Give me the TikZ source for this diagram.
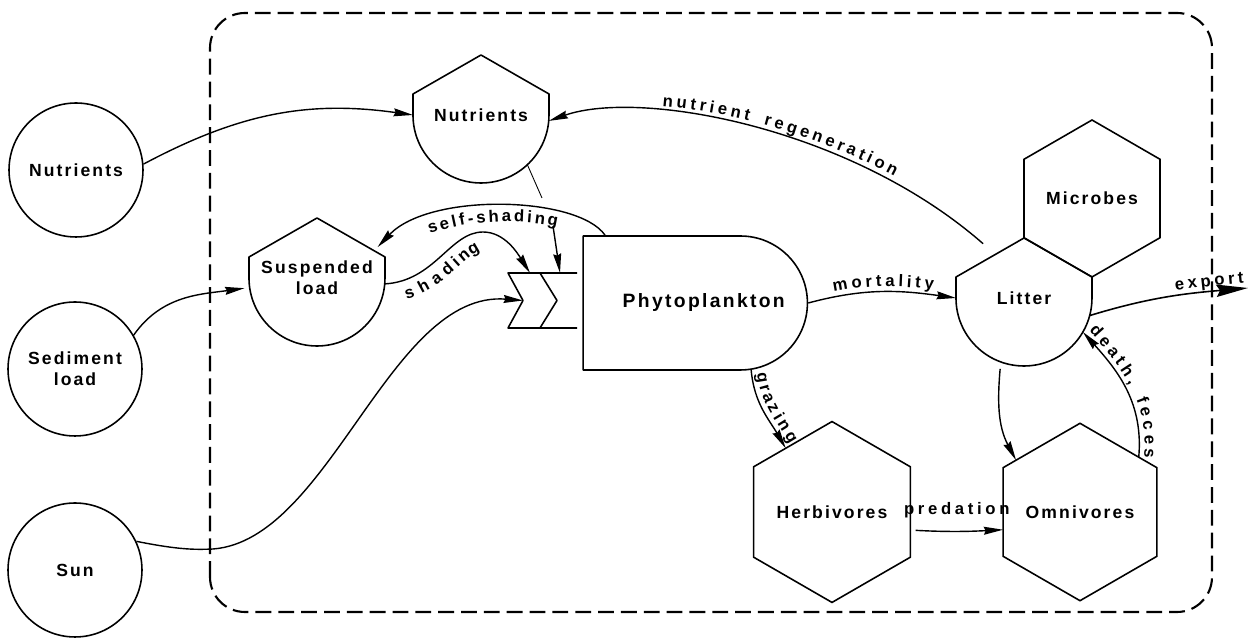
\documentclass[tikz,border=0pt]{standalone}
\usepackage{fontspec}
\setmainfont{Liberation Sans}[LetterSpace=12]
\newfontfamily\labelfam{Liberation Sans}[LetterSpace=22]
\newcommand\lblfont{\labelfam\bfseries\fontsize{9.5}{11}\selectfont}
\usetikzlibrary{positioning,arrows.meta,shapes.geometric,shapes.misc,decorations.text}

\begin{document}
\begin{tikzpicture}[x=0.02cm,y=0.02cm,font=\bfseries\fontsize{10}{12}\selectfont,
src/.style={circle,draw,line width=.9pt,minimum size=2.68cm,inner sep=0pt,align=center},
tank/.style={circle,minimum size=2.72cm,inner sep=0pt,outer sep=0pt,align=center},
hexa/.style={regular polygon,regular polygon sides=6,shape border rotate=30,draw,line width=.9pt,minimum size=3cm,inner sep=0pt,outer sep=0pt},
outline/.style={line width=.9pt,line join=round},
flow/.style={-{Stealth[length=11pt,width=4.5pt,inset=1pt]},line width=.8pt},
lbl/.style={decorate,decoration={text along path,text align=center,raise=3pt,text={|\lblfont\kern2pt|#1}}}]
\useasboundingbox (0,0) rectangle (1249,639);
\draw[line width=1.2pt,dash pattern=on 9pt off 4pt,rounded corners=0.7cm] (210,27) rectangle (1212,626);
\node[src] (nsrc) at (76,469) {Nutrients};
\node[src] (sedsrc) at (75,270) {Sediment\\load};
\node[src] (sunsrc) at (75,69) {Sun};
\node[tank] (nut) at (481,524) {Nutrients};
\node[tank] (susp) at (317,361) {Suspended\\load};
\node[tank] (litter) at (1024,341) {Litter};
\node[hexa,minimum size=3.14cm] (microbes) at (1092,440.5) {Microbes};
\node[hexa] (herb) at (832,127) {Herbivores};
\node[hexa] (omni) at (1080,127) {Omnivores};
\node[draw,outline,rounded rectangle,rounded rectangle left arc=none,minimum width=4.72cm,minimum height=2.68cm,font=\bfseries\fontsize{11}{13}\selectfont] (phyto) at (695,336) {\hspace*{0.35cm}Phytoplankton};
\foreach \t in {nut,susp,litter}{\draw[outline] (\t.west) -- ++(0,21) -- ++(68,39) -- ++(68,-39) -- (\t.east) arc[start angle=0,end angle=-180,radius=68];}
\draw[outline] (577,366) -- (508,366) -- (523,338.5) -- (508,311) -- (577,311);
\draw[outline] (540,366) -- (557,338.5) -- (540,311);
\coordinate (gatein) at (523,338.5);
\coordinate (gatetop1) at (530,366);
\coordinate (gatetop2) at (560,366);
\coordinate (shpeak) at (483,407);
\coordinate (ssfork) at (553,413);
\coordinate (nutlink) at (542,441);
\coordinate (exportend) at (1248,351);
\draw[flow] (nsrc.5) to[out=28,in=172] (nut.west);
\draw[flow,shorten >=3pt] (sedsrc.30) to[out=55,in=188] (susp.188);
\draw[flow] (sunsrc.25) .. controls (175,90) and (192,89) .. (213,90) .. controls (330,99) and (390,349) .. (gatein);
\draw[flow] (susp.-5) .. controls (435,358) and (450,407) .. (shpeak) .. controls (505,407) and (518,385) .. (gatetop1);
\path[lbl={shading},decoration={raise=-11pt}] (susp.-5) .. controls (435,358) and (450,407) .. (shpeak);
\draw[flow] (phyto.143) .. controls (578,443) and (430,447) .. (susp.27);
\path[lbl={self-shading},decoration={raise=-9pt}] (susp.27) .. controls (430,447) and (578,443) .. (phyto.143);
\draw[flow] (ssfork) -- (gatetop2);
\draw[line width=.5pt] (nut.-47) -- (nutlink);
\draw[flow,postaction={lbl={mortality}}] (phyto.east) to[out=15,in=172] (litter.west);
\draw[flow] (litter.127) .. controls (850,512) and (640,550) .. (nut.-5);
\path[lbl={nutrient regeneration}] (nut.-5) .. controls (640,550) and (850,512) .. (litter.127);
\draw[-{Stealth[length=18pt,width=7pt,inset=2pt]},line width=.9pt,postaction={lbl={export},decoration={text align={right,right indent=2pt}}}] (litter.-15) to[out=17,in=185] (exportend);
\draw[flow,postaction={lbl={grazing}}] (phyto.-50) to[out=-85,in=120] (herb.126);
\draw[flow,shorten <=3pt] (herb.-13) to[out=-3,in=183] node[midway,above=4pt,font=\lblfont] {predation} (omni.193);
\draw[flow,shorten <=4pt] (litter.-110) to[out=-95,in=118] (omni.141);
\draw[flow] (omni.43) to[out=85,in=-48] (litter.-30);
\path[lbl={death, feces}] (litter.-30) to[out=-48,in=85] (omni.43);
\end{tikzpicture}
\end{document}
